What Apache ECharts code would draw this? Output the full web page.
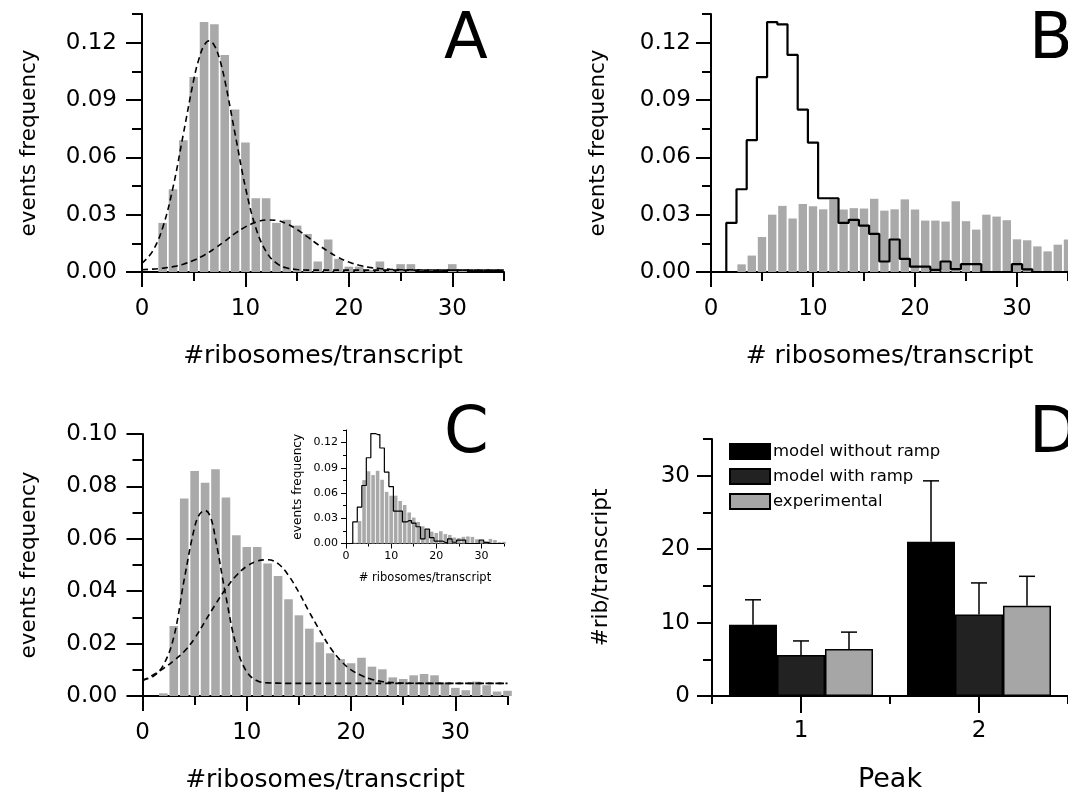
<!DOCTYPE html>
<html><head><meta charset="utf-8">
<script src="https://cdn.jsdelivr.net/npm/echarts@6/dist/echarts.min.js"></script>
<style>html,body{margin:0;padding:0;background:#fff}#c{width:1068px;height:801px}</style>
</head><body><div id="c"></div>
<script>
// ---------- data ----------
const binX = [1,2,3,4,5,6,7,8,9,10,11,12,13,14,15,16,17,18,19,20,21,22,23,24,25,26,27,28,29,30,31,32,33,34,35];
const modelFreq = [0,0.0257,0.0433,0.069,0.102,0.1308,0.1296,0.1136,0.085,0.0677,0.0386,0.0386,0.0257,0.0273,0.0243,0.0199,0.0055,0.017,0.0069,0.0028,0.0028,0.0011,0.0055,0.0015,0.0041,0.0041,0,0,0,0.0041,0.0014,0,0,0,0];
const expFreqB = [0,0,0.004,0.0086,0.0183,0.030,0.0346,0.028,0.0356,0.0344,0.0328,0.038,0.0327,0.0334,0.0332,0.0383,0.0321,0.0328,0.038,0.0327,0.0269,0.0269,0.0264,0.037,0.0266,0.0222,0.030,0.029,0.0271,0.0171,0.0166,0.0134,0.0108,0.0143,0.017];
const expFreqC = [0,0.001,0.0267,0.0754,0.0859,0.0814,0.0865,0.0758,0.0614,0.0569,0.0569,0.0506,0.0458,0.0369,0.0308,0.0257,0.0205,0.0163,0.0141,0.0125,0.0146,0.0112,0.0102,0.0071,0.0065,0.0079,0.0084,0.0079,0.0051,0.0031,0.0022,0.0055,0.0041,0.0017,0.002];

const fitA1X = [0,1,2,3,4,5,5.5,6,6.5,7,7.5,8,9,10,11,12,13,14,15,16,18,20,25,30,35];
const fitA1Y = [0.0046,0.0107,0.0232,0.0443,0.0723,0.1005,0.1114,0.1185,0.121,0.1185,0.1114,0.1005,0.0723,0.0443,0.0232,0.0107,0.0046,0.0021,0.0013,0.001,0.001,0.001,0.001,0.001,0.001];
const fitA2X = [0,1,2,3,4,5,6,7,8,9,10,11,12,13,14,15,16,17,18,19,20,21,22,23,24,25,30,35];
const fitA2Y = [0.0012,0.0015,0.002,0.0028,0.0041,0.0061,0.0088,0.0122,0.0161,0.0202,0.0236,0.026,0.0272,0.027,0.0252,0.0222,0.0184,0.0144,0.0108,0.0076,0.0052,0.0035,0.0024,0.0018,0.0014,0.0012,0.001,0.001];
const fitC1X = [0,1,2,3,4,5,5.5,6,6.5,7,8,9,10,11,12,13,14,20,25,30,35];
const fitC1Y = [0.0063,0.0074,0.0118,0.0225,0.0445,0.0645,0.0695,0.0708,0.0685,0.060,0.038,0.019,0.0092,0.0058,0.005,0.0049,0.0048,0.0048,0.0048,0.0048,0.0048];
const fitC2X = [0,1,2,3,4,5,6,7,8,9,10,11,12,13,14,15,16,17,18,19,20,21,22,23,24,25,30,35];
const fitC2Y = [0.0058,0.008,0.0105,0.0135,0.017,0.022,0.0285,0.035,0.041,0.046,0.0495,0.0515,0.052,0.0505,0.046,0.0395,0.032,0.025,0.0185,0.0135,0.010,0.0078,0.0063,0.0055,0.0051,0.0049,0.0048,0.0048];

const peakCats = ['1','2'];
const groupNames = ['model without ramp','model with ramp','experimental'];
const noRampMean = [9.7, 21.0];
const noRampErr  = [3.4, 8.3];
const rampMean   = [5.6, 11.1];
const rampErr    = [1.9, 4.3];
const expMean    = [6.4, 12.3];
const expErr     = [2.3, 4.0];

const ribTicks = [0,10,20,30];
const ribMinor = [5,15,25,35];
const freqTicks = [0,0.03,0.06,0.09,0.12];
const freqMinor = [0.015,0.045,0.075,0.105,0.135];
const freqTicksC = [0,0.02,0.04,0.06,0.08,0.10];
const freqMinorC = [0.01,0.03,0.05,0.07,0.09];
const ribTicksD = [0,10,20,30];
const ribMinorD = [5,15,25,35];

// ---------- helpers ----------
const FONT = 'DejaVu Sans';
const zip = (xs, ys) => xs.map((x, i) => [x, ys[i]]);
function pair(kind, grid, min, max, major, minor, o) {
  const pos = kind === 'x' ? 'bottom' : 'left';
  const ls = {color:'#000', width:o.lw};
  const main = {
    type:'value', gridIndex:grid, min:min, max:max, position:pos,
    axisLine:{show:true, onZero:false, lineStyle:ls},
    axisTick:{show:true, length:o.majorLen, lineStyle:ls, customValues:major},
    axisLabel:{show:true, customValues:major, margin:o.margin, color:'#000', fontFamily:FONT, fontSize:o.fs, formatter:o.fmt, hideOverlap:false},
    splitLine:{show:false},
    name:o.name, nameLocation:'middle', nameGap:o.nameGap,
    nameTextStyle:{fontFamily:FONT, fontSize:o.nameFs, color:'#000'}
  };
  const mn = {
    type:'value', gridIndex:grid, min:min, max:max, position:pos,
    axisLine:{show:false}, axisTick:{show:true, length:o.minorLen, lineStyle:ls, customValues:minor},
    axisLabel:{show:false}, splitLine:{show:false}
  };
  return [main, mn];
}
const f2 = v => v.toFixed(2);
const f0 = v => String(Math.round(v));

const xAxes = [], yAxes = [];
// A (grid 0)
xAxes.push(...pair('x',0,0,35,ribTicks,ribMinor,{lw:2,majorLen:15,minorLen:9,fs:23,margin:26,fmt:f0,name:'#ribosomes/transcript',nameGap:72,nameFs:25}));
yAxes.push(...pair('y',0,0,0.135,freqTicks,freqMinor,{lw:2,majorLen:16,minorLen:10,fs:23,margin:25,fmt:f2,name:'events frequency',nameGap:102,nameFs:21.5}));
// B (grid 1)
xAxes.push(...pair('x',1,0,35,ribTicks,ribMinor,{lw:2,majorLen:15,minorLen:9,fs:23,margin:26,fmt:f0,name:'# ribosomes/transcript',nameGap:72,nameFs:25}));
yAxes.push(...pair('y',1,0,0.135,freqTicks,freqMinor,{lw:2,majorLen:15,minorLen:9,fs:23,margin:20,fmt:f2,name:'events frequency',nameGap:102,nameFs:21.5}));
// C (grid 2)
xAxes.push(...pair('x',2,0,35,ribTicks,ribMinor,{lw:2,majorLen:15,minorLen:9,fs:23,margin:26,fmt:f0,name:'#ribosomes/transcript',nameGap:72,nameFs:25}));
yAxes.push(...pair('y',2,0,0.10,freqTicksC,freqMinorC,{lw:2,majorLen:16,minorLen:10,fs:23,margin:25,fmt:f2,name:'events frequency',nameGap:102,nameFs:21.5}));
// inset (grid 3)
xAxes.push(...pair('x',3,0,35,ribTicks,ribMinor,{lw:1,majorLen:5,minorLen:3,fs:11,margin:7,fmt:f0,name:'# ribosomes/transcript',nameGap:29,nameFs:11.5}));
yAxes.push(...pair('y',3,0,0.135,freqTicks,freqMinor,{lw:1,majorLen:5,minorLen:3,fs:11,margin:8,fmt:f2,name:'events frequency',nameGap:42,nameFs:12.2}));
// D (grid 4)
xAxes.push({
  type:'category', gridIndex:4, data:peakCats, position:'bottom', boundaryGap:true,
  axisLine:{show:true, onZero:false, lineStyle:{color:'#000', width:2}},
  axisTick:{show:true, length:8, lineStyle:{color:'#000', width:2}},
  axisLabel:{margin:24, color:'#000', fontFamily:FONT, fontSize:23},
  splitLine:{show:false},
  name:'Peak', nameLocation:'middle', nameGap:70, nameTextStyle:{fontFamily:FONT, fontSize:27, color:'#000'}
});
xAxes.push({
  type:'category', gridIndex:4, data:peakCats, position:'bottom', boundaryGap:true,
  axisLine:{show:false}, axisTick:{show:true, alignWithLabel:true, length:17, lineStyle:{color:'#000', width:2}},
  axisLabel:{show:false}, splitLine:{show:false}
});
yAxes.push(...pair('y',4,0,35,ribTicksD,ribMinorD,{lw:2,majorLen:15,minorLen:9,fs:23,margin:22,fmt:f0,name:'#rib/transcript',nameGap:100,nameFs:21.5}));

const GRAY = '#a9a9a9';
const dash = {color:'#000', width:1.6, type:[6,4]};
function fit(xi, yi, xs, ys) {
  return {type:'line', xAxisIndex:xi, yAxisIndex:yi, data:zip(xs, ys), smooth:0.4, symbol:'none', lineStyle:dash, z:4};
}
const BAR_W = 48;
function errSeries(means, errs, k) {
  const off = (k - 1) * BAR_W;
  return {
    type:'custom', xAxisIndex:8, yAxisIndex:8, z:4,
    data: means.map((m, i) => [i, m, errs[i]]),
    renderItem: (p, api) => {
      const c = api.value(0), m = api.value(1), e = api.value(2);
      const a = api.coord([c, m]), b = api.coord([c, m + e]);
      const x = a[0] + off;
      const st = {stroke:'#000', lineWidth:1.5};
      return {type:'group', children:[
        {type:'line', shape:{x1:x, y1:a[1], x2:x, y2:b[1]}, style:st},
        {type:'line', shape:{x1:x - 8, y1:b[1], x2:x + 8, y2:b[1]}, style:st}
      ]};
    }
  };
}

const series = [
  // A
  {type:'bar', xAxisIndex:0, yAxisIndex:0, data:zip(binX, modelFreq), barWidth:8.6, itemStyle:{color:GRAY}},
  fit(0,0,fitA1X,fitA1Y), fit(0,0,fitA2X,fitA2Y),
  // B
  {type:'bar', xAxisIndex:2, yAxisIndex:2, data:zip(binX, expFreqB), barWidth:8.4, itemStyle:{color:GRAY}},
  {type:'line', xAxisIndex:2, yAxisIndex:2, data:zip(binX, modelFreq), step:'middle', symbol:'none', lineStyle:{color:'#000', width:2.2}, z:4},
  // C
  {type:'bar', xAxisIndex:4, yAxisIndex:4, data:zip(binX, expFreqC), barWidth:8.6, itemStyle:{color:GRAY}},
  fit(4,4,fitC1X,fitC1Y), fit(4,4,fitC2X,fitC2Y),
  // inset
  {type:'bar', xAxisIndex:6, yAxisIndex:6, data:zip(binX, expFreqC), barWidth:3.6, itemStyle:{color:GRAY}},
  {type:'line', xAxisIndex:6, yAxisIndex:6, data:zip(binX, modelFreq), step:'middle', symbol:'none', lineStyle:{color:'#000', width:1.2}, z:4},
  // D
  {type:'bar', name:groupNames[0], xAxisIndex:8, yAxisIndex:8, data:noRampMean, barWidth:BAR_W, barGap:'0%', itemStyle:{color:'#000', borderColor:'#000', borderWidth:1.5}},
  {type:'bar', name:groupNames[1], xAxisIndex:8, yAxisIndex:8, data:rampMean, barWidth:BAR_W, barGap:'0%', itemStyle:{color:'#222', borderColor:'#000', borderWidth:1.5}},
  {type:'bar', name:groupNames[2], xAxisIndex:8, yAxisIndex:8, data:expMean, barWidth:BAR_W, barGap:'0%', itemStyle:{color:'#a6a6a6', borderColor:'#000', borderWidth:1.5}},
  errSeries(noRampMean, noRampErr, 0), errSeries(rampMean, rampErr, 1), errSeries(expMean, expErr, 2)
];

function letter(t, x, y) {
  return {type:'text', x:x, y:y, style:{text:t, fontFamily:FONT, fontSize:64, fill:'#000', verticalAlign:'top'}};
}

const chart = echarts.init(document.getElementById('c'), null, {renderer:'canvas'});
chart.setOption({
  animation:false,
  backgroundColor:'#fff',
  grid:[
    {left:142, top:14, width:362, height:258},
    {left:711, top:14, width:361.5, height:258},
    {left:142.5, top:434, width:365, height:262},
    {left:346, top:430, width:158, height:113.5},
    {left:712, top:439, width:361, height:257}
  ],
  xAxis:xAxes, yAxis:yAxes,
  legend:{
    data:groupNames, orient:'vertical', left:724, top:438, itemWidth:40, itemHeight:15, itemGap:8,
    icon:'rect', textStyle:{fontFamily:FONT, fontSize:16.5, color:'#000', padding:[0,0,0,-2]},
    selectedMode:false
  },
  graphic:[letter('A',444,9), letter('B',1029,9), letter('C',444,403), letter('D',1029,403)],
  series:series
});
</script></body></html>
